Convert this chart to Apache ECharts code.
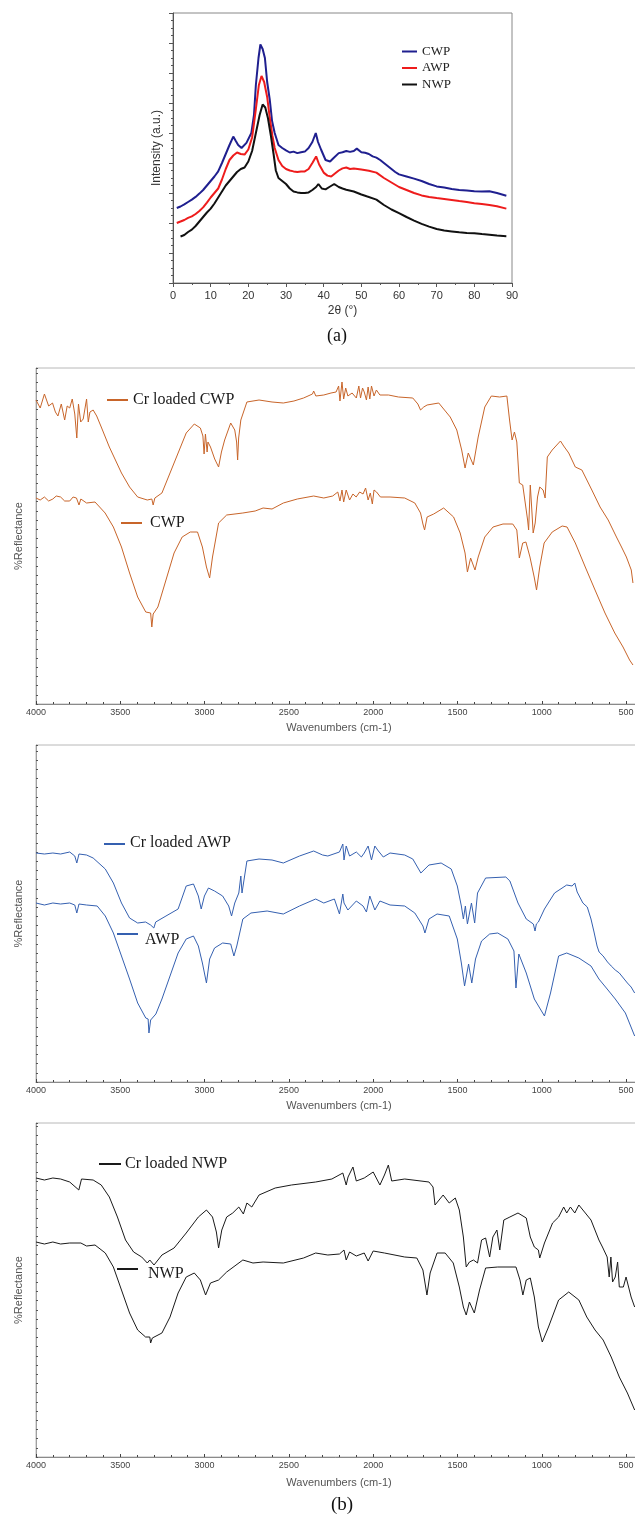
<!DOCTYPE html>
<html>
<head>
<meta charset="utf-8">
<script src="https://cdn.jsdelivr.net/npm/echarts@6/dist/echarts.min.js"></script>
<style>
html, body { margin: 0; padding: 0; background: #fff; }
#main { width: 635px; height: 1517px; }
</style>
</head>
<body>
<div id="main"></div>
<script>
// (a) XRD, [2theta, intensity a.u.]
var xrdCWP = [[1,2.5],[2,2.55],[3,2.62],[4,2.7],[5,2.78],[6,2.87],[7,2.98],[8,3.1],[9,3.25],[10,3.4],[11,3.55],[12,3.72],[13,4.0],[14,4.3],[15,4.6],[16,4.88],[16.6,4.75],[17.3,4.6],[18.2,4.5],[19.5,4.67],[20.8,5.0],[21.5,5.6],[22,6.6],[22.7,7.5],[23.2,7.95],[23.8,7.8],[24.4,7.5],[25,6.7],[25.7,6.1],[26.3,5.4],[27,5.0],[28,4.6],[29,4.5],[30,4.42],[31,4.35],[32,4.38],[33,4.33],[34,4.36],[35,4.38],[36,4.5],[37,4.7],[37.9,5.0],[38.5,4.7],[39.3,4.45],[40.5,4.1],[41.7,4.05],[42.5,4.15],[44,4.33],[45,4.36],[46,4.4],[47,4.37],[48,4.4],[48.8,4.48],[50,4.36],[51,4.34],[52,4.3],[53,4.22],[54,4.18],[55,4.1],[56,4.0],[57,3.9],[58,3.8],[59,3.7],[60,3.62],[62,3.55],[64,3.48],[66,3.4],[68,3.3],[70,3.22],[72,3.18],[74,3.13],[76,3.1],[78,3.08],[80,3.06],[82,3.05],[84,3.06],[86,3.0],[88.5,2.91]];
var xrdAWP = [[1,2.0],[2,2.05],[3,2.1],[4,2.17],[5,2.22],[6,2.3],[7,2.4],[8,2.52],[9,2.68],[10,2.85],[11,3.0],[12,3.15],[13,3.45],[14,3.8],[15,4.1],[16,4.25],[17,4.35],[18,4.3],[19,4.28],[20,4.45],[21,4.85],[22,5.8],[22.8,6.6],[23.5,6.9],[24.2,6.7],[25,6.2],[25.7,5.5],[26.4,4.9],[27,4.5],[28,4.1],[29,3.9],[30,3.8],[31,3.75],[32,3.72],[33,3.7],[34,3.72],[35,3.72],[36,3.8],[37,4.0],[38,4.22],[38.8,3.95],[40,3.68],[41,3.58],[42,3.55],[43,3.65],[44,3.75],[45,3.82],[46,3.85],[47,3.8],[48,3.82],[50,3.78],[52,3.74],[54,3.68],[56,3.5],[58,3.35],[60,3.2],[62,3.1],[64,3.0],[66,2.92],[68,2.87],[70,2.83],[72,2.8],[74,2.77],[76,2.73],[78,2.7],[80,2.66],[82,2.63],[84,2.6],[86,2.56],[88.5,2.48]];
var xrdNWP = [[2,1.55],[3,1.6],[4,1.7],[5,1.78],[6,1.9],[7,2.05],[8,2.2],[9,2.35],[10,2.48],[11,2.65],[12,2.85],[13,3.05],[14,3.25],[15,3.4],[16,3.55],[17,3.7],[18,3.8],[19,3.85],[20,4.05],[21,4.4],[22,5.0],[23,5.6],[23.8,5.95],[24.5,5.85],[25.2,5.5],[26,4.9],[26.7,4.3],[27.3,3.75],[28,3.5],[29,3.4],[30,3.3],[31,3.15],[32,3.05],[33,3.02],[34,3.0],[35,3.0],[36,3.02],[37,3.1],[38,3.2],[38.6,3.3],[39.5,3.15],[40.5,3.12],[41.5,3.2],[42.8,3.3],[44,3.2],[45,3.15],[46,3.11],[48,3.05],[50,2.95],[51.4,2.89],[54,2.78],[56,2.6],[58,2.45],[60,2.33],[62,2.2],[64,2.08],[66,1.97],[68,1.88],[70,1.8],[72,1.75],[74,1.72],[76,1.69],[78,1.67],[80,1.66],[82,1.63],[84,1.61],[86,1.58],[88.5,1.56]];

// (b) FTIR, [wavenumber cm-1, reflectance a.u.]
var ftirCrCWP = [[4000,304],[3975,296],[3950,310],[3925,298],[3902,301],[3885,292],[3870,288],[3850,300],[3830,284],[3815,298],[3800,296],[3785,305],[3770,290],[3758,266],[3748,300],[3735,282],[3720,285],[3700,305],[3690,282],[3680,292],[3661,294],[3640,288],[3613,277],[3565,257],[3493,231],[3445,217],[3397,207],[3340,204],[3313,205],[3305,199],[3295,206],[3253,211],[3205,231],[3157,251],[3109,271],[3061,280],[3025,276],[3010,268],[3003,250],[2995,270],[2985,252],[2980,262],[2965,257],[2940,245],[2917,237],[2900,252],[2881,264],[2845,281],[2821,274],[2810,262],[2804,244],[2798,266],[2785,284],[2749,302],[2677,304],[2600,302],[2533,301],[2470,303],[2413,306],[2360,310],[2353,313],[2340,308],[2293,309],[2250,311],[2220,312],[2205,318],[2197,303],[2185,322],[2175,305],[2163,316],[2150,308],[2125,311],[2100,306],[2085,318],[2075,306],[2063,316],[2053,312],[2040,304],[2030,317],[2020,305],[2010,318],[1995,308],[1981,314],[1960,309],[1909,309],[1850,307],[1765,306],[1735,300],[1719,294],[1700,297],[1680,299],[1611,301],[1543,287],[1504,274],[1475,254],[1455,236],[1436,251],[1406,239],[1377,267],[1338,297],[1299,308],[1250,307],[1207,308],[1191,284],[1176,264],[1162,272],[1148,262],[1133,221],[1113,219],[1098,201],[1084,184],[1078,174],[1068,219],[1059,194],[1051,171],[1039,181],[1025,207],[1012,217],[992,214],[980,206],[967,247],[938,254],[889,263],[870,258],[840,251],[801,237],[762,234],[703,214],[654,197],[606,184],[557,167],[527,157],[498,147],[469,134],[459,121]];
var ftirCWP = [[4000,206],[3975,204],[3950,207],[3925,203],[3900,205],[3880,208],[3854,207],[3830,203],[3800,203],[3780,207],[3760,206],[3745,199],[3734,205],[3700,201],[3650,202],[3590,191],[3541,177],[3493,157],[3445,131],[3397,107],[3349,92],[3320,91],[3313,77],[3305,90],[3277,97],[3229,124],[3181,151],[3133,167],[3085,172],[3042,172],[3013,157],[2989,137],[2970,126],[2953,147],[2917,181],[2869,189],[2773,191],[2700,193],[2653,196],[2600,195],[2533,201],[2450,205],[2353,208],[2293,206],[2240,208],[2210,212],[2197,203],[2185,214],[2175,202],[2160,214],[2140,204],[2120,210],[2101,207],[2080,212],[2060,210],[2045,216],[2030,204],[2017,211],[2005,200],[1995,214],[1980,212],[1957,207],[1900,207],[1813,206],[1753,201],[1719,191],[1705,180],[1695,174],[1680,187],[1641,190],[1582,196],[1523,187],[1484,171],[1455,151],[1441,132],[1422,146],[1396,134],[1377,147],[1338,167],[1289,177],[1230,180],[1172,180],[1148,174],[1133,146],[1113,161],[1094,162],[1070,147],[1045,127],[1031,114],[1012,137],[986,161],[938,172],[879,178],[850,177],[801,161],[742,137],[684,114],[625,91],[567,71],[518,57],[479,44],[459,39]];
var ftirCrAWP = [[4000,229],[3950,228],[3900,229],[3854,228],[3800,230],[3770,226],[3758,219],[3745,228],[3700,227],[3661,224],[3589,213],[3541,199],[3493,179],[3445,164],[3397,159],[3350,160],[3320,157],[3301,154],[3290,160],[3229,166],[3157,173],[3109,196],[3066,198],[3037,186],[3020,173],[3001,186],[2977,194],[2941,191],[2893,186],[2857,176],[2840,166],[2821,179],[2797,189],[2785,206],[2778,189],[2749,221],[2677,223],[2600,222],[2533,219],[2437,226],[2353,231],[2300,227],[2269,226],[2200,230],[2180,238],[2173,222],[2160,236],[2140,226],[2100,230],[2070,225],[2053,229],[2030,236],[2010,222],[1990,236],[1969,231],[1940,225],[1900,229],[1813,227],[1765,223],[1717,209],[1669,217],[1597,219],[1537,213],[1501,196],[1477,176],[1465,163],[1453,176],[1441,158],[1417,179],[1398,159],[1381,189],[1333,204],[1213,205],[1189,201],[1141,179],[1092,163],[1050,158],[1040,151],[1032,158],[1020,160],[984,173],[924,189],[852,197],[820,196],[804,199],[790,190],[756,179],[730,175],[708,163],[690,150],[672,136],[660,130],[636,126],[610,120],[588,116],[564,112],[540,109],[516,104],[492,99],[470,95],[449,89]];
var ftirAWP = [[4000,179],[3950,177],[3900,179],[3854,178],[3800,179],[3770,177],[3758,169],[3745,178],[3700,177],[3637,176],[3589,166],[3541,149],[3493,126],[3445,103],[3397,79],[3349,64],[3335,63],[3330,49],[3320,62],[3289,68],[3253,83],[3205,106],[3157,129],[3109,143],[3066,146],[3037,136],[3013,119],[2989,99],[2970,123],[2941,134],[2893,139],[2845,138],[2826,126],[2809,136],[2773,163],[2725,169],[2629,171],[2533,168],[2437,176],[2341,183],[2293,179],[2230,183],[2200,168],[2180,188],[2173,179],[2150,172],[2100,181],[2060,176],[2040,170],[2020,186],[2005,179],[1990,172],[1960,181],[1900,177],[1813,176],[1753,169],[1705,156],[1693,149],[1669,163],[1621,168],[1549,166],[1501,143],[1477,119],[1458,96],[1434,118],[1415,99],[1393,123],[1357,141],[1309,148],[1261,149],[1201,143],[1165,131],[1153,94],[1136,128],[1092,109],[1044,83],[984,66],[948,89],[900,126],[852,129],[780,124],[708,116],[661,103],[612,93],[564,83],[504,69],[449,46]];
var ftirCrNWP = [[4000,279],[3950,277],[3900,279],[3854,278],[3800,275],[3746,267],[3730,278],[3661,277],[3613,272],[3565,260],[3517,240],[3469,217],[3421,205],[3373,200],[3340,194],[3325,197],[3300,192],[3253,202],[3181,209],[3109,224],[3037,240],[2989,247],[2953,240],[2930,225],[2917,209],[2898,227],[2869,240],[2833,244],[2797,250],[2770,243],[2749,254],[2720,250],[2677,262],[2581,269],[2485,272],[2341,275],[2245,278],[2180,284],[2160,272],[2149,280],[2120,290],[2100,276],[2053,279],[2000,285],[1960,272],[1933,282],[1910,292],[1890,276],[1813,278],[1669,275],[1645,270],[1633,252],[1609,257],[1585,262],[1549,254],[1513,259],[1489,247],[1465,220],[1448,190],[1429,195],[1405,197],[1381,194],[1357,217],[1333,219],[1309,200],[1290,220],[1266,227],[1249,207],[1225,237],[1189,240],[1141,244],[1092,239],[1068,220],[1044,210],[1020,207],[1012,199],[984,214],[936,234],[900,240],[870,250],[852,244],[830,250],[804,244],[780,252],[756,247],[708,237],[661,217],[640,210],[612,200],[600,180],[590,200],[580,175],[564,180],[550,195],[540,170],[516,170],[500,180],[470,160],[449,150]];
var ftirNWP = [[4000,215],[3950,213],[3900,215],[3854,213],[3800,214],[3734,214],[3700,211],[3650,212],[3589,204],[3541,190],[3493,167],[3445,144],[3397,127],[3350,120],[3325,120],[3320,114],[3310,119],[3253,124],[3205,140],[3157,164],[3109,180],[3061,184],[3025,177],[2994,162],[2965,174],[2917,177],[2869,185],[2773,197],[2713,194],[2653,195],[2533,194],[2413,199],[2341,204],[2269,202],[2200,203],[2173,207],[2160,197],[2140,205],[2100,201],[2053,204],[2030,196],[2000,206],[1933,204],[1813,200],[1741,199],[1705,187],[1681,162],[1662,184],[1621,204],[1573,204],[1525,194],[1489,170],[1465,150],[1448,142],[1429,155],[1400,144],[1369,167],[1333,189],[1261,190],[1153,190],[1129,177],[1112,162],[1092,177],[1068,179],[1044,160],[1020,130],[997,115],[960,130],[900,157],[840,165],[780,157],[733,140],[684,127],[636,117],[588,100],[540,80],[492,64],[449,47]];

(function () {
    var mychart = echarts.init(document.getElementById('main'));

    var serif = "'Liberation Serif', 'Times New Roman', serif";
    var sans = "'Liberation Sans', Arial, sans-serif";
    var orange = '#c8652a', blue = '#3560b0', black = '#1a1a1a';
    var ftirTops = [368, 745, 1123];
    var ftirHeights = [336, 337, 334];

    var grids = [{left: 173, top: 13, width: 339, height: 270, show: true, borderColor: '#888', borderWidth: 1, outerBoundsMode: 'none'}];
    var xAxes = [{
        gridIndex: 0, type: 'value', min: 0, max: 90, interval: 10,
        axisLine: {lineStyle: {color: '#555'}},
        axisTick: {length: 4, lineStyle: {color: '#555'}},
        minorTick: {show: true, splitNumber: 2, length: 2, lineStyle: {color: '#555'}},
        splitLine: {show: false},
        axisLabel: {color: '#333', fontSize: 11, margin: 7, fontFamily: sans},
        name: '2θ (°)', nameLocation: 'middle', nameGap: 22,
        nameTextStyle: {color: '#333', fontSize: 12, fontFamily: sans}
    }];
    var yAxes = [{
        gridIndex: 0, type: 'value', min: 0, max: 9, interval: 1,
        axisLine: {lineStyle: {color: '#555'}},
        axisTick: {length: 4, lineStyle: {color: '#555'}},
        minorTick: {show: true, splitNumber: 4, length: 2, lineStyle: {color: '#555'}},
        splitLine: {show: false},
        axisLabel: {show: false},
        name: 'Intensity (a.u.)', nameLocation: 'middle', nameGap: 10,
        nameTextStyle: {color: '#333', fontSize: 12, fontFamily: sans}
    }];

    // three FTIR panels, 4000 on the left, the low end is cut by the page edge
    for (var i = 0; i < 3; i++) {
        grids.push({left: 36, top: ftirTops[i], width: 600, height: ftirHeights[i], show: true, borderColor: '#b8b8b8', borderWidth: 1, outerBoundsMode: 'none'});
        xAxes.push({
            gridIndex: i + 1, type: 'value', inverse: true, min: 441, max: 4000, splitNumber: 7,
            axisLine: {lineStyle: {color: '#8a8a8a'}},
            axisTick: {inside: true, length: 3, lineStyle: {color: '#444'}},
            minorTick: {show: true, splitNumber: 5, length: 2, lineStyle: {color: '#444'}},
            splitLine: {show: false},
            axisLabel: {
                color: '#444', fontSize: 9, margin: 4,
                fontFamily: "'Liberation Sans Narrow', " + sans,
                formatter: function (v) { return v % 500 === 0 ? String(v) : ''; }
            }
        });
        yAxes.push({
            gridIndex: i + 1, type: 'value', min: 0, max: ftirHeights[i], interval: 9.2,
            axisLine: {show: true, onZero: false, lineStyle: {color: '#a0a0a0'}},
            axisTick: {show: true, inside: true, length: 2, lineStyle: {color: '#555'}},
            splitLine: {show: false},
            axisLabel: {show: false},
            name: '%Reflectance', nameLocation: 'middle', nameGap: 12,
            nameTextStyle: {color: '#555', fontSize: 11, fontFamily: sans}
        });
    }

    function line(name, data, idx, color, width) {
        return {
            name: name, type: 'line', data: data,
            xAxisIndex: idx, yAxisIndex: idx,
            showSymbol: false, symbol: 'none',
            itemStyle: {color: color},
            lineStyle: {color: color, width: width},
            animation: false
        };
    }

    // FTIR panel labels: short line + text
    function tag(text, x1, x2, yLine, xText, yText, color) {
        return [
            {type: 'line', shape: {x1: x1, y1: yLine, x2: x2, y2: yLine}, style: {stroke: color, lineWidth: 2}},
            {type: 'text', x: xText, y: yText, style: {text: text, fontSize: 16, fontFamily: serif, fill: '#1a1a1a', align: 'left', verticalAlign: 'middle'}}
        ];
    }

    function axisTitle(y) {
        return {type: 'text', x: 339, y: y, style: {text: 'Wavenumbers (cm-1)', fontSize: 11, fontFamily: sans, fill: '#555', align: 'center', verticalAlign: 'middle'}};
    }

    var graphics = [].concat(
        tag('Cr loaded CWP', 107, 128, 400, 133, 400, orange),
        tag('CWP', 121, 142, 523, 150, 523, orange),
        tag('Cr loaded AWP', 104, 125, 844, 130, 843, blue),
        tag('AWP', 117, 138, 934, 145, 940, blue),
        tag('Cr loaded NWP', 99, 121, 1164, 125, 1164, black),
        tag('NWP', 117, 138, 1269, 148, 1274, black),
        [axisTitle(728), axisTitle(1106), axisTitle(1483),
         {type: 'text', x: 337, y: 336, style: {text: '(a)', fontSize: 18, fontFamily: serif, fill: '#111', align: 'center', verticalAlign: 'middle'}},
         {type: 'text', x: 342, y: 1505, style: {text: '(b)', fontSize: 19, fontFamily: serif, fill: '#111', align: 'center', verticalAlign: 'middle'}}]
    );

    var option = {
        backgroundColor: '#fff',
        animation: false,
        grid: grids,
        xAxis: xAxes,
        yAxis: yAxes,
        legend: {
            data: ['CWP', 'AWP', 'NWP'],
            orient: 'vertical', left: 397, top: 40,
            itemWidth: 15, itemHeight: 2, icon: 'rect', itemGap: 3.5,
            selectedMode: false,
            textStyle: {fontFamily: serif, fontSize: 13, color: '#222'}
        },
        graphic: graphics,
        series: [
            line('CWP', xrdCWP, 0, '#1f1f8f', 2),
            line('AWP', xrdAWP, 0, '#ee1c1c', 2),
            line('NWP', xrdNWP, 0, '#111111', 2),
            line('Cr loaded CWP', ftirCrCWP, 1, orange, 1),
            line('CWP (FTIR)', ftirCWP, 1, orange, 1),
            line('Cr loaded AWP', ftirCrAWP, 2, blue, 1),
            line('AWP (FTIR)', ftirAWP, 2, blue, 1),
            line('Cr loaded NWP', ftirCrNWP, 3, black, 1),
            line('NWP (FTIR)', ftirNWP, 3, black, 1)
        ]
    };
    mychart.setOption(option);
    window.addEventListener('resize', function () {
        mychart.resize();
    });
})();
</script>
</body>
</html>
